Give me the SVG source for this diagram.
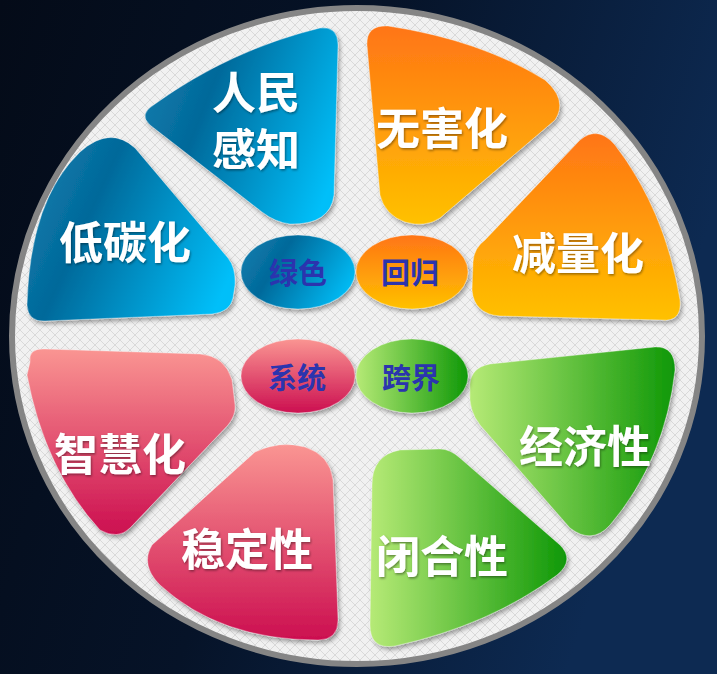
<svg xmlns="http://www.w3.org/2000/svg" width="717" height="674" viewBox="0 0 717 674">
<defs>
<linearGradient id="bg" x1="0" y1="0" x2="1" y2="0.3">
<stop offset="0" stop-color="#040b18"/>
<stop offset="0.5" stop-color="#061328"/>
<stop offset="1" stop-color="#0d2a52"/>
</linearGradient>
<pattern id="chk" width="10" height="10" patternUnits="userSpaceOnUse">
<rect width="10" height="10" fill="#f1f1f1"/>
<path d="M0,0 L10,10 M10,0 L0,10" stroke="#d9d9d9" stroke-width="1"/>
</pattern>
<linearGradient id="gBlue" x1="0" y1="0.3" x2="1" y2="0.7">
<stop offset="0" stop-color="#0d7bac"/>
<stop offset="0.3" stop-color="#03699a"/>
<stop offset="1" stop-color="#00bff9"/>
</linearGradient>
<linearGradient id="gOrange" x1="0" y1="0" x2="0" y2="1">
<stop offset="0" stop-color="#ff7515"/>
<stop offset="1" stop-color="#ffc100"/>
</linearGradient>
<linearGradient id="gPink" x1="0" y1="0" x2="0" y2="1">
<stop offset="0" stop-color="#fa9592"/>
<stop offset="1" stop-color="#cc0f50"/>
</linearGradient>
<linearGradient id="gGreen" x1="0" y1="0" x2="1" y2="0">
<stop offset="0" stop-color="#b6ea76"/>
<stop offset="1" stop-color="#0f9807"/>
</linearGradient>
<filter id="sh" x="-10%" y="-10%" width="130%" height="130%">
<feDropShadow dx="2" dy="3" stdDeviation="2" flood-color="#000" flood-opacity="0.35"/>
</filter>
<filter id="tsh" x="-10%" y="-10%" width="130%" height="130%">
<feDropShadow dx="1" dy="1.5" stdDeviation="1" flood-color="#000" flood-opacity="0.4"/>
</filter>
</defs>
<style>
.big{font-family:"Noto Sans CJK SC","Noto Sans",sans-serif;font-weight:700;font-size:44px;fill:#fff;text-anchor:middle;dominant-baseline:central;filter:url(#tsh)}
.sm{font-family:"Noto Sans CJK SC","Noto Sans",sans-serif;font-weight:700;font-size:29px;fill:#2b34ae;text-anchor:middle;dominant-baseline:central}
.pet{filter:url(#sh);stroke:#ffffff;stroke-opacity:0.35;stroke-width:1}
</style>
<rect width="717" height="674" fill="url(#bg)"/>
<ellipse cx="357" cy="336" rx="345" ry="328" fill="url(#chk)" stroke="#858585" stroke-width="6"/>

<g id="renmin">
<path class="pet" fill="url(#gBlue)" d="M155,104 Q230,50 320,28 Q338,26 338,45 L334,195 Q330,225 290,224 Q275,222 262,212 L150,125 Q138,114 155,104 Z"/>
<text class="big"><tspan x="256" y="90">人民</tspan><tspan x="256" y="147">感知</tspan></text>
</g>
<g id="ditan">
<path class="pet" fill="url(#gBlue)" d="M80,152 Q110,125 135,148 L228,258 Q236,268 235,285 L233,298 Q230,312 212,314 L45,321 Q28,322 27,305 Q30,200 80,152 Z"/>
<text class="big" x="125" y="240">低碳化</text>
</g>
<g id="wuhai">
<path class="pet" fill="url(#gOrange)" d="M367,45 Q366,25 388,26 Q480,40 545,80 Q568,100 555,120 L440,218 Q425,228 405,222 Q385,215 380,195 L367,45 Z"/>
<text class="big" x="442" y="126">无害化</text>
</g>
<g id="jianliang">
<path class="pet" fill="url(#gOrange)" d="M580,140 Q598,125 615,145 Q665,210 680,300 Q682,322 662,320 L500,316 Q474,314 472,290 L473,262 Q474,248 485,240 L580,140 Z"/>
<text class="big" x="578" y="251">减量化</text>
</g>
<g id="zhihui">
<path class="pet" fill="url(#gPink)" d="M30,362 Q28,348 45,349 L200,354 Q225,356 232,380 L235,405 Q236,415 228,425 L130,528 Q118,540 100,530 Q45,470 27,375 Z"/>
<text class="big" x="120" y="452">智慧化</text>
</g>
<g id="wending">
<path class="pet" fill="url(#gPink)" d="M255,452 Q280,440 305,447 Q330,455 333,480 L338,620 Q338,640 318,640 Q220,640 160,585 Q140,565 152,545 L255,452 Z"/>
<text class="big" x="247" y="547">稳定性</text>
</g>
<g id="jingji">
<path class="pet" fill="url(#gGreen)" d="M470,390 Q468,368 490,364 L655,347 Q675,346 675,370 Q665,460 610,525 Q592,545 570,528 L480,425 Q468,410 470,390 Z"/>
<text class="big" x="585" y="444">经济性</text>
</g>
<g id="bihe">
<path class="pet" fill="url(#gGreen)" d="M372,485 Q372,455 400,450 L440,449 Q450,449 460,458 L560,545 Q575,560 557,575 Q490,625 395,646 Q370,650 370,625 Z"/>
<text class="big" x="442" y="554">闭合性</text>
</g>
<g id="lvse">
<ellipse class="pet" cx="298" cy="272" rx="57" ry="37" fill="url(#gBlue)"/>
<text class="sm" x="298" y="271">绿色</text>
</g>
<g id="huigui">
<ellipse class="pet" cx="412" cy="272" rx="56" ry="37" fill="url(#gOrange)"/>
<text class="sm" x="410" y="271">回归</text>
</g>
<g id="xitong">
<ellipse class="pet" cx="298" cy="376" rx="57" ry="37" fill="url(#gPink)"/>
<text class="sm" x="297" y="376">系统</text>
</g>
<g id="kuajie">
<ellipse class="pet" cx="412" cy="376" rx="56" ry="37" fill="url(#gGreen)"/>
<text class="sm" x="411" y="376">跨界</text>
</g>
<g id="connectors"/>
</svg>
